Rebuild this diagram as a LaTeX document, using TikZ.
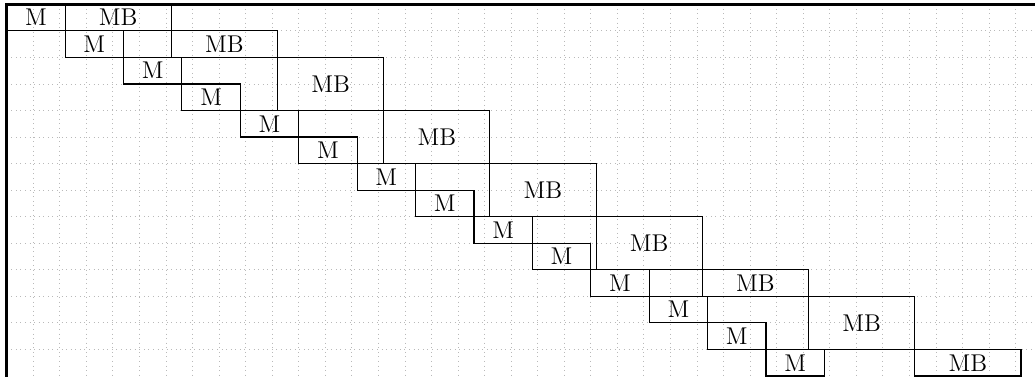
\documentclass[tikz,border=0pt]{standalone}
\usepackage{fontspec}
\begin{document}
\begin{tikzpicture}[x=0.5cm,y=-0.5cm,
  gridline/.style={gray!55,dotted,line width=0.45pt},
  axisline/.style={black,line width=1.6pt},
  cell/.style={draw=black,line width=0.6pt,inner sep=0pt,
    minimum height=0.5cm,font=\fontsize{13}{15}\selectfont},
  mcell/.style={cell,minimum width=1.1cm},
  mbcell/.style={cell,minimum width=2cm}]
\useasboundingbox (-0.252,-0.162) rectangle (38.73,14.0);
% background grid
\foreach \x in {1,...,38} \draw[gridline] (\x,0) -- (\x,14.2);
\foreach \y in {1,...,13} \draw[gridline] (0,\y) -- (38.9,\y);
% M tasks on the diagonal
\foreach \i in {0,...,13}
  \node[mcell] (m\i) at ({2.2*\i+1.1},{\i+0.5}) {M};
% MB tasks: index / first row / number of rows
\foreach \k/\r/\h in {0/0/1,1/1/1,2/2/2,3/4/2,4/6/2,5/8/2,6/10/1,7/11/2,8/13/1}
  \node[mbcell,minimum height=\h*0.5cm] (mb\k) at ({4.2+4*\k},{\r+\h/2}) {MB};
% axes
\draw[axisline] (0,14.3) -- (0,0) -- (39,0);
\end{tikzpicture}
\end{document}
